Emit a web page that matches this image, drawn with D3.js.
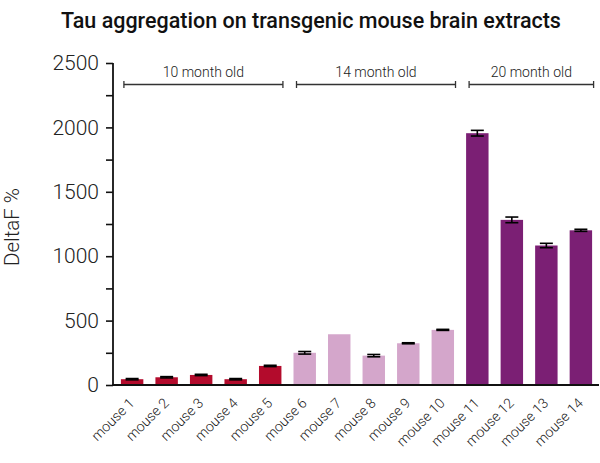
<!DOCTYPE html>
<html><head><meta charset="utf-8">
<script src="https://cdn.jsdelivr.net/npm/d3@7"></script>
<style>body{margin:0;background:#fff}svg{display:block}</style>
</head><body>
<svg id="c" width="600" height="463"></svg>
<script>
const categories = ["mouse 1","mouse 2","mouse 3","mouse 4","mouse 5","mouse 6","mouse 7","mouse 8","mouse 9","mouse 10","mouse 11","mouse 12","mouse 13","mouse 14"];
const values = [45, 60, 78, 45, 148, 250, 394, 228, 324, 428, 1955, 1282, 1083, 1201];
const errors = [5, 5, 5, 5, 5, 10, 0, 9, 4, 4, 22, 22, 17, 8];
const groupIndex = [0,0,0,0,0,1,1,1,1,1,2,2,2,2];
const groupLabels = ["10 month old","14 month old","20 month old"];
const groupColors = ["#b30b2c","#d4a6cb","#7b1f74"];
const yTicks = [0,500,1000,1500,2000,2500];
const yMinorTicks = [0,250,500,750,1000,1250,1500,1750,2000,2250,2500];

const svg = d3.select("#c");
const font = "Roboto, 'DejaVu Sans', sans-serif";
const x = d3.scaleBand().domain(categories).range([114, 599]).paddingInner(0.35).paddingOuter(0.2);
const y = d3.scaleLinear().domain([0, 2500]).range([385, 63]);

// title
svg.append("text").attr("x", 311).attr("y", 28).attr("text-anchor","middle")
  .attr("font-family", font).attr("font-weight", 500).attr("font-size", 21.5).attr("fill","#111")
  .text("Tau aggregation on transgenic mouse brain extracts");

// bars
svg.append("g").selectAll("rect").data(categories).join("rect")
  .attr("x", d => x(d)).attr("width", x.bandwidth())
  .attr("y", (d,i) => y(values[i])).attr("height", (d,i) => y(0) - y(values[i]))
  .attr("fill", (d,i) => groupColors[groupIndex[i]]);

// error bars
const eg = svg.append("g").attr("stroke","#000").attr("stroke-width",1.6);
categories.forEach((d,i) => {
  if (!errors[i]) return;
  const cx = x(d) + x.bandwidth()/2, hw = 6.5;
  const t = y(values[i] + errors[i]), b = y(values[i] - errors[i]);
  eg.append("line").attr("x1",cx).attr("x2",cx).attr("y1",t).attr("y2",b);
  eg.append("line").attr("x1",cx-hw).attr("x2",cx+hw).attr("y1",t).attr("y2",t);
  eg.append("line").attr("x1",cx-hw).attr("x2",cx+hw).attr("y1",b).attr("y2",b);
});

// y axis
const ya = svg.append("g").attr("transform","translate(113,0)")
  .call(d3.axisLeft(y).tickValues(yMinorTicks).tickSize(7).tickFormat(d => yTicks.includes(d) ? d : ""));
ya.select(".domain").attr("stroke","#111").attr("stroke-width",1.8).attr("d","M0,63V385.5");
ya.selectAll(".tick line").attr("stroke","#111").attr("stroke-width",1.6);
ya.selectAll(".tick text").attr("font-family", font).attr("font-weight",300).attr("font-size",21).attr("fill","#222").attr("x",-14);

// x axis
const xa = svg.append("g").attr("transform","translate(0,385)")
  .call(d3.axisBottom(x).tickSize(0));
xa.select(".domain").attr("stroke","#111").attr("stroke-width",1.8).attr("d","M112.5,0H599");
xa.selectAll(".tick text").attr("font-family", font).attr("font-weight",300).attr("font-size",14).attr("fill","#222")
  .attr("text-anchor","end").attr("dy",0).attr("y",0)
  .attr("transform","translate(3,19) rotate(-45)");

// y label
svg.append("text").attr("transform","translate(19,227) rotate(-90)").attr("text-anchor","middle")
  .attr("font-family", font).attr("font-weight",300).attr("font-size",20.5).attr("fill","#222").text("DeltaF %");

// group brackets
const groups = groupLabels.map((g, k) => {
  const idx = groupIndex.map((v,i) => v===k ? i : -1).filter(i => i>=0);
  return {label: g, x0: x(categories[idx[0]]) + 3, x1: x(categories[idx[idx.length-1]]) + x.bandwidth() + 1.5};
});
const bg = svg.append("g").attr("stroke","#333").attr("stroke-width",1.3);
groups.forEach(g => {
  bg.append("line").attr("x1",g.x0).attr("x2",g.x1).attr("y1",84.5).attr("y2",84.5);
  bg.append("line").attr("x1",g.x0).attr("x2",g.x0).attr("y1",81).attr("y2",88);
  bg.append("line").attr("x1",g.x1).attr("x2",g.x1).attr("y1",81).attr("y2",88);
  svg.append("text").attr("x",(g.x0+g.x1)/2).attr("y",77).attr("text-anchor","middle")
    .attr("font-family", font).attr("font-weight",300).attr("font-size",14).attr("fill","#222").text(g.label);
});
</script>
</body></html>
